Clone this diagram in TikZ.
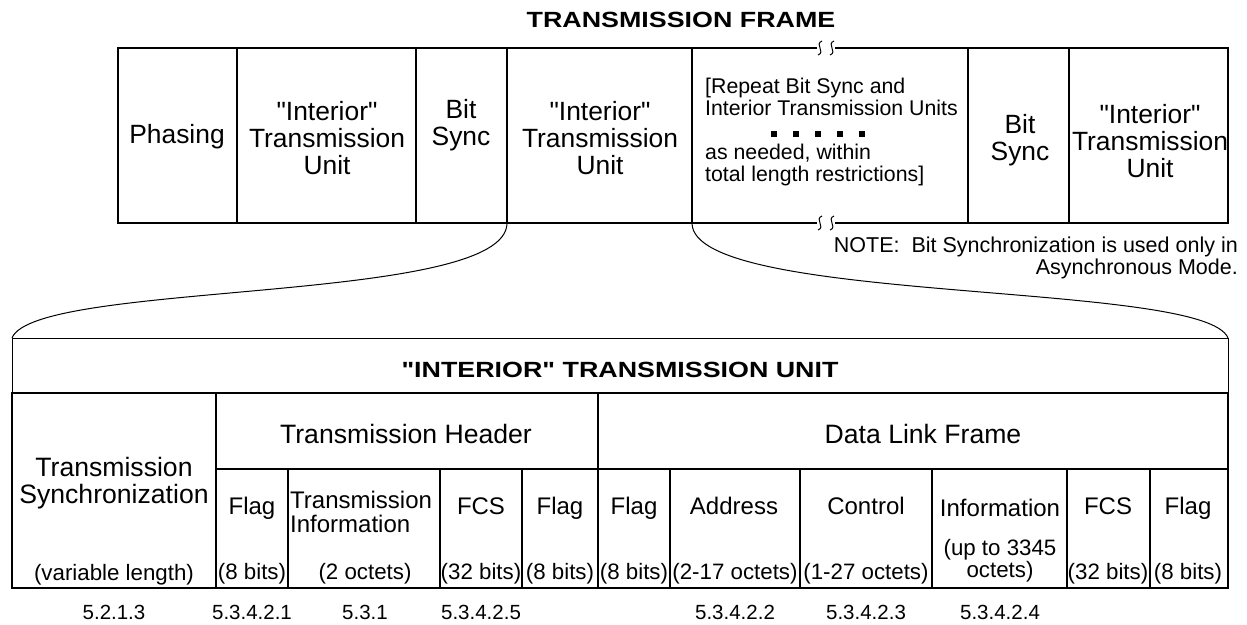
\documentclass[tikz,border=0pt]{standalone}
\usepackage{fontspec}
\newfontfamily\af{Liberation Sans}
\newfontfamily\titlefont[FakeStretch=1.22]{Liberation Sans}
\begin{document}
\begin{tikzpicture}[x=1pt,y=-1pt,
  big/.style={font=\af\fontsize{26.4}{27}\selectfont, align=center, inner sep=0pt},
  hdr/.style={font=\af\fontsize{26.6}{27}\selectfont, align=center, inner sep=0pt},
  mid/.style={font=\af\fontsize{24}{24}\selectfont, align=center, inner sep=0pt},
  small/.style={font=\af\fontsize{22.3}{22}\selectfont, align=center, inner sep=0pt},
  rep/.style={font=\af\fontsize{21.3}{21.5}\selectfont, inner sep=0pt},
  note/.style={font=\af\fontsize{21.5}{21.5}\selectfont, inner sep=0pt},
  num/.style={font=\af\fontsize{20.5}{20}\selectfont, inner sep=0pt},
  ttl/.style={font=\titlefont\bfseries\fontsize{22}{24}\selectfont, inner sep=0pt},
  frame/.style={line width=2.2pt},
  grid/.style={line width=2pt},
  thinline/.style={line width=1pt},
  curve/.style={line width=1pt},
  dot/.style={fill=black, minimum size=5.5pt, inner sep=0pt, draw=none, rectangle},
  brk/.style={line width=1pt}
]
\useasboundingbox (0,0) rectangle (1247,624);

% ---------- Transmission frame ----------
\node[ttl] (ftitle) at (681,20) {TRANSMISSION FRAME};

\coordinate (TL) at (118,48);
\coordinate (TR) at (1228,48);
\coordinate (BL) at (118,223);
\coordinate (BR) at (1228,223);
\coordinate (ca) at (507,223);
\coordinate (cb) at (692,223);

\draw[frame] (817,48) -- (TL) -- (BL) -- (817,223);
\draw[frame] (835,48) -- (TR) -- (BR) -- (835,223);
\foreach \xx in {820,832}{
  \draw[brk] (\xx+2,41) .. controls (\xx-6,44) and (\xx+6,52) .. (\xx-2,55);
  \draw[brk] (\xx+2,216) .. controls (\xx-6,219) and (\xx+6,227) .. (\xx-2,230);
}
\foreach \xx in {237,416,507,692,968,1069}{
  \draw[frame] (\xx,48) -- (\xx,223);
}

\node[big] (phasing) at (177,137) {Phasing};
\node[big] (itu1) at (327,138) {"Interior"\\Transmission\\Unit};
\node[big] (bs1) at (461,125) {Bit\\Sync};
\node[big] (itu2) at (600,138) {"Interior"\\Transmission\\Unit};
\node[rep, anchor=north west, align=left] (rep1) at (705,78) {[Repeat Bit Sync and\\Interior Transmission Units};
\foreach \xx [count=\i] in {774,796,818,840,862}{
  \node[dot] (d\i) at (\xx,134) {};
}
\node[rep, anchor=north west, align=left] (rep2) at (705,144) {as needed, within\\total length restrictions]};
\node[big] (bs2) at (1020,140) {Bit\\Sync};
\node[big] (itu3) at (1150,141) {"Interior"\\Transmission\\Unit};

\node[note, anchor=north east, align=right] (note) at (1238,237) {NOTE:\ \ Bit Synchronization is used only in\\Asynchronous Mode.};

% ---------- Interior transmission unit ----------
\coordinate (LT) at (12,338);
\coordinate (RT) at (1228,338);

\draw[curve] (ca) .. controls (507,305) and (35,280) .. (LT);
\draw[curve] (cb) .. controls (692,305) and (1205,280) .. (RT);

\draw[thinline] (12,393) -- (LT) -- (RT) -- (1228,393);
\draw[grid] (12,393) rectangle (1228,588);
\draw[grid] (216,393) -- (216,588);
\draw[grid] (598,393) -- (598,588);
\draw[grid] (216,469) -- (1228,469);
\foreach \xx in {288,440,522,670,800,932,1067,1150}{
  \draw[grid] (\xx,469) -- (\xx,588);
}

\node[ttl] (itutitle) at (620,370) {"INTERIOR" TRANSMISSION UNIT};
\node[hdr] (thdr) at (406,434) {Transmission Header};
\node[hdr] (dlf) at (923,434) {Data Link Frame};
\node[hdr] (tsync) at (114,483) {Transmission\\Synchronization};

\node[mid] (f1) at (252,508) {Flag};
\node[mid, anchor=west, align=left] (ti) at (290,512) {Transmission\\Information};
\node[mid] (fcs1) at (481,506) {FCS};
\node[mid] (f2) at (560,508) {Flag};
\node[mid] (f3) at (634,508) {Flag};
\node[mid] (addr) at (734,506) {Address};
\node[mid] (ctrl) at (866,506) {Control};
\node[mid] (info) at (1000,508) {Information};
\node[mid] (fcs2) at (1108,506) {FCS};
\node[mid] (f4) at (1188,508) {Flag};

\node[small] (s0) at (114,575) {(variable length)};
\node[small] (s1) at (252,574) {(8 bits)};
\node[small] (s2) at (365,574) {(2 octets)};
\node[small] (s3) at (481,574) {(32 bits)};
\node[small] (s4) at (560,574) {(8 bits)};
\node[small] (s5) at (634,574) {(8 bits)};
\node[small] (s6) at (735,574) {(2-17 octets)};
\node[small] (s7) at (866,574) {(1-27 octets)};
\node[small] (s8) at (1000,561) {(up to 3345\\octets)};
\node[small] (s9) at (1108,574) {(32 bits)};
\node[small] (s10) at (1188,574) {(8 bits)};

\node[num] (n1) at (114,612) {5.2.1.3};
\node[num] (n2) at (252,612) {5.3.4.2.1};
\node[num] (n3) at (365,612) {5.3.1};
\node[num] (n4) at (481,612) {5.3.4.2.5};
\node[num] (n5) at (735,612) {5.3.4.2.2};
\node[num] (n6) at (866,612) {5.3.4.2.3};
\node[num] (n7) at (1000,612) {5.3.4.2.4};
\end{tikzpicture}
\end{document}
